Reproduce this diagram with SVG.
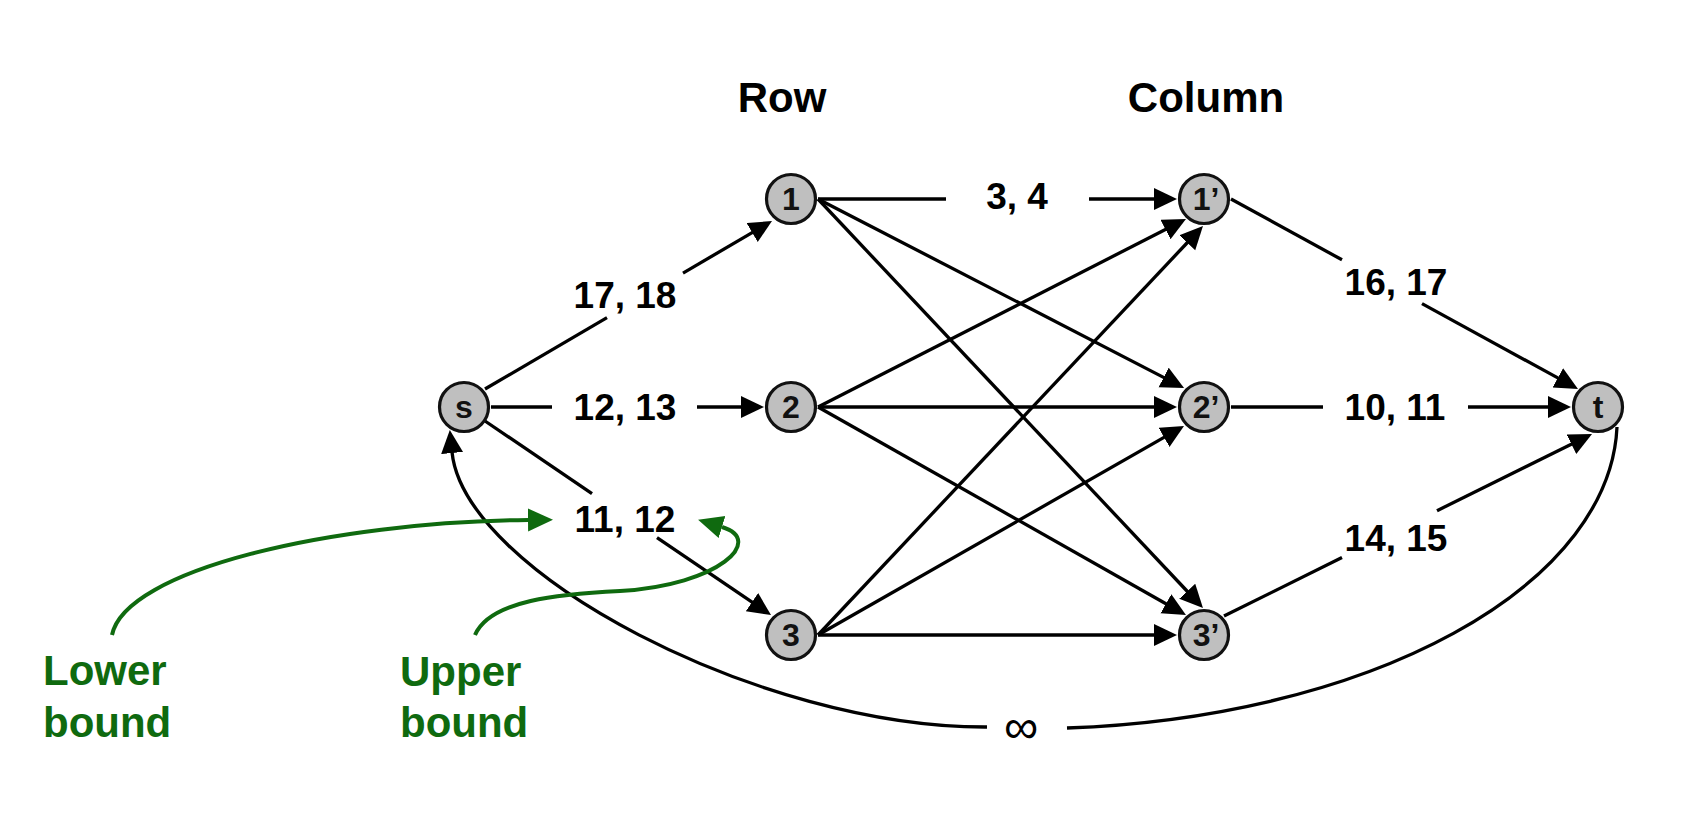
<svg xmlns="http://www.w3.org/2000/svg" width="1686" height="819" viewBox="0 0 1686 819">
<defs>
<style>
.node circle{fill:#bfbfbf;stroke:#111;stroke-width:3.2}
.node text{font-family:"Liberation Sans",Arial,sans-serif;font-weight:bold;font-size:32px;fill:#111;text-anchor:middle}
.edge{stroke:#000;stroke-width:3.3;fill:none}
.arr{marker-end:url(#ah)}
.green{stroke:#0f6a0f;stroke-width:4;fill:none;marker-end:url(#gh)}
.lbl{font-family:"Liberation Sans",Arial,sans-serif;font-weight:bold;font-size:37px;fill:#000;text-anchor:middle}
.hdr{font-family:"Liberation Sans",Arial,sans-serif;font-weight:bold;font-size:42px;fill:#000;text-anchor:middle}
.gtxt{font-family:"Liberation Sans",Arial,sans-serif;font-weight:bold;font-size:42px;fill:#0f6a0f}
</style>
<marker id="ah" markerUnits="userSpaceOnUse" markerWidth="24" markerHeight="24" refX="1" refY="11" orient="auto">
<path d="M0,0 L23,11 L0,22 z" fill="#000"/>
</marker>
<marker id="gh" markerUnits="userSpaceOnUse" markerWidth="26" markerHeight="26" refX="0" refY="11.5" orient="auto">
<path d="M0,0 L25,11.5 L0,23 z" fill="#0f6a0f"/>
</marker>
</defs>
<rect width="1686" height="819" fill="#fff"/>

<g id="connectors">
<!-- s -> 1 -->
<path class="edge" d="M485,389 L607,317.6"/>
<path class="edge arr" d="M683,273.1 L753,232.1"/>
<!-- s -> 2 -->
<path class="edge" d="M491,407 L552,407"/>
<path class="edge arr" d="M697,407 L742,407"/>
<!-- s -> 3 -->
<path class="edge" d="M485,421 L592,493.6"/>
<path class="edge arr" d="M657,537.7 L752.8,602.7"/>
<!-- 1 -> 1' -->
<path class="edge" d="M818,199 L946,199"/>
<path class="edge arr" d="M1089,199 L1155,199"/>
<!-- row to column crossings -->
<path class="edge arr" d="M818,199 L1164.5,377.9"/>
<path class="edge arr" d="M818,199 L1187.9,592"/>
<path class="edge arr" d="M818,407 L1166.4,229"/>
<path class="edge arr" d="M818,407 L1155,407"/>
<path class="edge arr" d="M818,407 L1166.8,604.2"/>
<path class="edge arr" d="M818,635 L1187.9,242"/>
<path class="edge arr" d="M818,635 L1164.9,436.9"/>
<path class="edge arr" d="M818,635 L1155,635"/>
<!-- 1' -> t -->
<path class="edge" d="M1231,199 L1342,259.8"/>
<path class="edge arr" d="M1422,303.6 L1558.7,378.4"/>
<!-- 2' -> t -->
<path class="edge" d="M1231,407 L1323,407"/>
<path class="edge arr" d="M1468,407 L1549,407"/>
<!-- 3' -> t -->
<path class="edge" d="M1224,616 L1342,557.6"/>
<path class="edge arr" d="M1437,510.7 L1572.3,443.8"/>
<!-- t -> s (infinity) -->
<path class="edge" d="M1617,427 A590,309 0 0 1 1067,728"/>
<path class="edge arr" d="M987,727 C760,728 464,572 452,452"/>
<!-- annotation arrows -->
<path class="green" d="M112,635 C125,570 330,522 528,520"/>
<path class="green" d="M475,635 C490,600 560,594 620,591 C720,585 765,540 722,527"/>
</g>

<g id="labels">
<text class="hdr" x="782" y="112">Row</text>
<text class="hdr" x="1206" y="112">Column</text>
<text class="lbl" x="625" y="308">17, 18</text>
<text class="lbl" x="625" y="420">12, 13</text>
<text class="lbl" x="625" y="532">11, 12</text>
<text class="lbl" x="1017" y="209">3, 4</text>
<text class="lbl" x="1396" y="295">16, 17</text>
<text class="lbl" x="1395" y="420">10, 11</text>
<text class="lbl" x="1396" y="551">14, 15</text>
<text x="1021" y="743" style="font-family:'Liberation Sans',Arial,sans-serif;font-size:48px;fill:#000;text-anchor:middle">∞</text>
<text class="gtxt" x="43" y="685">Lower</text>
<text class="gtxt" x="43" y="737">bound</text>
<text class="gtxt" x="400" y="686">Upper</text>
<text class="gtxt" x="400" y="737">bound</text>
</g>

<g id="node-s" class="node"><circle cx="464" cy="407" r="24.5"/><text x="464" y="418">s</text></g>
<g id="node-1" class="node"><circle cx="791" cy="199" r="24.5"/><text x="791" y="210">1</text></g>
<g id="node-2" class="node"><circle cx="791" cy="407" r="24.5"/><text x="791" y="418">2</text></g>
<g id="node-3" class="node"><circle cx="791" cy="635" r="24.5"/><text x="791" y="646">3</text></g>
<g id="node-1p" class="node"><circle cx="1204" cy="199" r="24.5"/><text x="1206" y="210">1’</text></g>
<g id="node-2p" class="node"><circle cx="1204" cy="407" r="24.5"/><text x="1206" y="418">2’</text></g>
<g id="node-3p" class="node"><circle cx="1204" cy="635" r="24.5"/><text x="1206" y="646">3’</text></g>
<g id="node-t" class="node"><circle cx="1598" cy="407" r="24.5"/><text x="1598" y="418">t</text></g>
</svg>
